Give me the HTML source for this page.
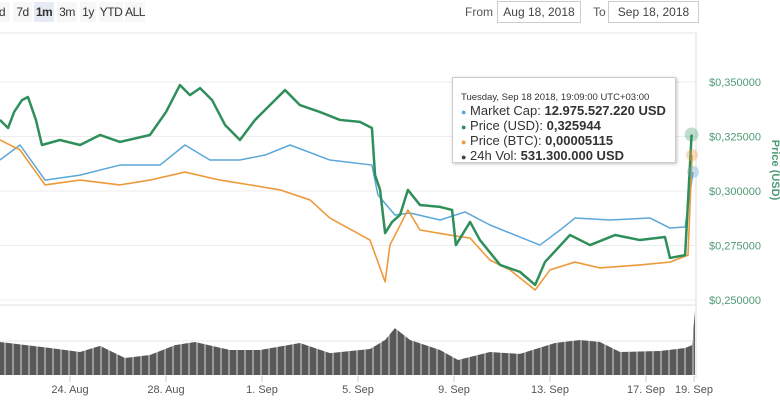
<!DOCTYPE html>
<html><head><meta charset="utf-8">
<style>
body{margin:0;width:780px;height:405px;overflow:hidden;background:#fff;font-family:"Liberation Sans",sans-serif;}
.btn{position:absolute;top:2px;height:20px;line-height:20px;font-size:12px;color:#333;background:#f7f7f7;text-align:center;letter-spacing:-0.5px;}
.lbl{position:absolute;top:5px;font-size:12px;color:#555;}
.box{position:absolute;top:1px;height:20px;border:1px solid #ccc;font-size:12px;line-height:20px;color:#444;text-align:center;}
</style></head><body>
<div class="btn" style="left:-6px;width:16px">d</div>
<div class="btn" style="left:13px;width:19px">7d</div>
<div class="btn" style="left:34px;width:20px;background:#e6ebf5;font-weight:bold">1m</div>
<div class="btn" style="left:57px;width:20px">3m</div>
<div class="btn" style="left:80px;width:16px">1y</div>
<div class="btn" style="left:99px;width:24px">YTD</div>
<div class="btn" style="left:125px;width:20px">ALL</div>
<div class="lbl" style="left:465px">From</div>
<div class="box" style="left:497px;width:82px">Aug 18, 2018</div>
<div class="lbl" style="left:593px">To</div>
<div class="box" style="left:608px;width:89px">Sep 18, 2018</div>
<svg id="chart" width="780" height="405" style="position:absolute;left:0;top:0"></svg>
<script>
const priceTicks=[0.25,0.275,0.30,0.325,0.35];
const priceTickLabels=["$0,250000","$0,275000","$0,300000","$0,325000","$0,350000"];
const dateTicks=[3,7,11,15,19,23,27,29];
const dateTickLabels=["24. Aug","28. Aug","1. Sep","5. Sep","9. Sep","13. Sep","17. Sep","19. Sep"];
const usdDays=[0.08,0.42,0.67,1.0,1.25,1.58,1.83,2.58,3.42,4.25,5.08,6.33,7.0,7.58,8.0,8.42,8.92,9.46,10.08,10.71,11.33,11.96,12.58,13.42,14.25,15.08,15.58,15.71,15.92,16.13,16.42,16.75,17.08,17.58,18.42,18.92,19.08,19.67,20.08,20.92,21.75,22.38,22.79,23.83,24.67,25.71,26.75,27.79,28.0,28.63,28.9];
const usdPrice=[.3326,.3289,.3362,.3417,.3431,.3326,.3211,.3234,.3211,.3257,.3225,.3257,.3362,.3486,.3440,.3472,.3417,.3303,.3234,.3326,.3394,.3463,.3394,.3362,.3326,.3317,.3289,.3073,.3005,.2807,.2858,.2890,.3005,.2936,.2927,.2913,.2752,.2858,.2775,.2661,.2629,.2569,.2674,.2798,.2752,.2798,.2775,.2789,.2693,.2706,.3259];
const btcDays=[0.08,0.92,1.96,3.42,5.08,6.33,7.79,9.25,10.5,11.75,13.0,13.83,15.5,16.13,16.33,17.08,17.58,18.83,19.67,20.5,21.33,22.38,23.0,24.04,25.08,26.75,28.0,28.75,28.92];
const btcScaled=[.3234,.3188,.3028,.3050,.3028,.3050,.3087,.3050,.3028,.3005,.2959,.2876,.2775,.2583,.2752,.2913,.2821,.2798,.2784,.2683,.2638,.2546,.2638,.2674,.2647,.2661,.2674,.2706,.3165];
const capDays=[0.08,0.92,1.96,3.42,5.08,6.75,7.79,8.83,10.08,11.13,12.17,13.83,15.58,15.83,16.54,17.17,18.42,19.46,20.5,21.54,22.58,23.42,24.04,25.5,27.17,28.0,28.63,28.96];
const capScaled=[.3142,.3211,.3050,.3073,.3119,.3119,.3211,.3142,.3142,.3165,.3211,.3142,.3119,.2982,.2890,.2899,.2867,.2904,.2844,.2798,.2752,.2821,.2876,.2867,.2876,.2830,.2835,.3087];
const volDays=[0.08,2.17,3.42,4.25,5.29,6.33,7.38,8.21,9.67,10.92,12.58,13.83,15.5,16.13,16.54,17.17,18.42,19.17,20.5,21.75,23.21,24.25,25.08,25.92,27.58,28.63,28.92,29.04];
const volume=[194,159,135,171,100,118,176,194,147,147,188,129,153,206,276,206,147,88,135,124,188,206,194,135,141,159,176,376];
const NS="http://www.w3.org/2000/svg";
const svg=document.getElementById('chart');
function X(d){return -2+24*d;}
function Y(v){return 82+(0.35-v)/0.025*54.5;}
function VY(v){return 375-v*0.17;}
function mk(t,a,p){const e=document.createElementNS(NS,t);for(const k in a)e.setAttribute(k,a[k]);(p||svg).appendChild(e);return e;}
let e=mk('line',{x1:0,y1:33,x2:697,y2:33,stroke:'#e6e6e6'});

e=mk('line',{x1:696,y1:33,x2:696,y2:378,stroke:'#ddd'});

priceTicks.forEach((v,i)=>{
  const g=mk('line',{x1:0,y1:Y(v),x2:697,y2:Y(v),stroke:'#ececec'});
  
  const t=mk('text',{x:709,y:Y(v)+4,'font-size':11,fill:'#4f9a74'});t.textContent=priceTickLabels[i];
  
});
e=mk('line',{x1:0,y1:305,x2:697,y2:305,stroke:'#ddd'});

e=mk('line',{x1:0,y1:VY(200),x2:697,y2:VY(200),stroke:'#e6e6e6'});

e=mk('text',{x:0,y:0,'font-size':11,'font-weight':'bold',fill:'#4f9a74',transform:'translate(772,170) rotate(90)','text-anchor':'middle'});
e.textContent='Price (USD)';

let d='M'+X(volDays[0])+',375';
volDays.forEach((t,i)=>{d+=' L'+X(t)+','+VY(volume[i]);});
d+=' L'+X(volDays[volDays.length-1])+',375 Z';
e=mk('path',{d:d,fill:'#585858'});

for(let x=5;x<695;x+=8){const l=mk('line',{x1:x,y1:300,x2:x,y2:376,stroke:'#fff','stroke-width':1,opacity:0.8});
}
function line(days,vals,col,w,name){
  const p=mk('polyline',{points:days.map((t,i)=>X(t)+','+Y(vals[i])).join(' '),fill:'none',stroke:col,'stroke-width':w,'stroke-linejoin':'round'});
  
}
line(capDays,capScaled,'#5ba7d8',1.5,'market-cap-line');
line(btcDays,btcScaled,'#ec9a3c',1.6,'price-btc-line');
line(usdDays,usdPrice,'#2f8f5b',2.5,'price-usd-line');
const n=usdDays.length-1;
e=mk('circle',{cx:X(usdDays[n]),cy:Y(usdPrice[n]),r:7,fill:'#2f8f5b',opacity:0.3});

e=mk('circle',{cx:X(btcDays[btcDays.length-1]),cy:Y(btcScaled[btcScaled.length-1]),r:6,fill:'#ec9a3c',opacity:0.35});

e=mk('circle',{cx:X(capDays[capDays.length-1]),cy:Y(capScaled[capDays.length-1]),r:6,fill:'#5ba7d8',opacity:0.35});

dateTicks.forEach((t,i)=>{
  const tk=mk('line',{x1:X(t),y1:376,x2:X(t),y2:382,stroke:'#ccc'});
  
  const tx=mk('text',{x:X(t),y:393,'font-size':11,fill:'#555','text-anchor':'middle'});tx.textContent=dateTickLabels[i];
  
});
</script>
<div style="position:absolute;left:452px;top:77px;width:224px;height:86px;background:rgba(255,255,255,0.95);border:1px solid #ccc;box-shadow:1px 1px 3px rgba(0,0,0,0.25);font-size:13px;color:#333;line-height:14px;padding:0 0 0 8px;box-sizing:border-box;white-space:nowrap">
<div style="font-size:9.5px;margin-top:13px;line-height:13px">Tuesday, Sep 18 2018, 19:09:00 UTC+03:00</div>
<div><span style="color:#5ba7d8;font-size:9px">●</span> Market Cap: <b>12.975.527.220 USD</b></div>
<div><span style="color:#2f8f5b;font-size:9px">●</span> Price (USD): <b>0,325944</b></div>
<div><span style="color:#ec9a3c;font-size:9px">●</span> Price (BTC): <b>0,00005115</b></div>
<div><span style="color:#444;font-size:9px">●</span> 24h Vol: <b>531.300.000 USD</b></div>
</div>
</body></html>
